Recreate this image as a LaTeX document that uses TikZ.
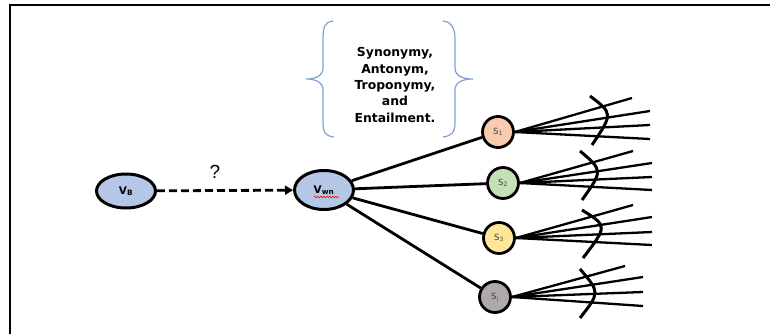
\documentclass[tikz,border=0pt]{standalone}
\usepackage{fontspec}
\setmainfont{DejaVu Sans}
\newfontfamily\qfont{Liberation Sans}
\usetikzlibrary{arrows.meta,shapes.geometric,decorations.pathmorphing}

\definecolor{vblue}{HTML}{B4C7E7}
\definecolor{sorange}{HTML}{F8CBAD}
\definecolor{sgreen}{HTML}{C5E0B4}
\definecolor{syellow}{HTML}{FFE699}
\definecolor{sgray}{HTML}{AEAAAA}
\definecolor{braceblue}{HTML}{7F9FD6}
\definecolor{labelgray}{HTML}{404040}

\begin{document}
\begin{tikzpicture}[x=1pt,y=-1pt,
  vnode/.style={ellipse,draw,line width=3pt,fill=vblue,inner sep=0pt,
    font=\bfseries\fontsize{10.5}{12}\selectfont},
  snode/.style={circle,draw,line width=2.8pt,minimum size=31pt,inner sep=0pt,
    font=\fontsize{8.5}{9}\selectfont,text=labelgray},
  link/.style={line width=2.8pt},
  fan/.style={line width=2.3pt},
  arcline/.style={line width=3pt},
  bracestroke/.style={draw=braceblue,line width=1.2pt},
  frame/.style={line width=2.6pt},
]
\useasboundingbox (0,0) rectangle (770,334);

% outer frame (top and left edges)
\draw[frame] (10,334) -- (10,5) -- (770,5);

% word nodes
\node[vnode,minimum width=59pt,minimum height=34pt] (vb) at (126,191) {V\textsubscript{B}};
\node[vnode,minimum width=59pt,minimum height=39pt] (vwn) at (324,190) {V\textsubscript{wn}};
\draw[red,line width=0.6pt,decorate,decoration={snake,amplitude=0.8pt,segment length=3pt}]
  (314,197) -- (339,197);

% unknown relation
\draw[link,dash pattern=on 8pt off 4pt,-{Triangle[length=8pt,width=9pt]}] (vb) -- (vwn);
\node[font=\qfont\fontsize{19}{20}\selectfont] (q) at (215,172) {?};

% relation types in braces
\node[align=center,font=\bfseries\fontsize{12.4}{16.3}\selectfont] (rel) at (395,85)
  {Synonymy,\\Antonym,\\Troponymy,\\and\\Entailment.};
\draw[bracestroke] (333,21) .. controls (324,22) and (323,28) .. (323,40) -- (323,68)
  .. controls (323,76) and (315,79) .. (306,79)
  .. controls (315,79) and (323,82) .. (323,90) -- (323,122)
  .. controls (323,132) and (325,136) .. (334,137);
\draw[bracestroke] (443,21) .. controls (452,22) and (455,28) .. (455,40) -- (455,68)
  .. controls (455,76) and (463,79) .. (473,79)
  .. controls (463,79) and (455,82) .. (455,90) -- (455,122)
  .. controls (455,132) and (452,136) .. (443,137);

% synset nodes
\node[snode,fill=sorange] (s1) at (498,132) {S\textsubscript{1}};
\node[snode,fill=sgreen] (s2) at (503,183) {S\textsubscript{2}};
\node[snode,fill=syellow] (s3) at (499,238) {S\textsubscript{3}};
\node[snode,fill=sgray] (s4) at (495,297) {S\textsubscript{i}};

\foreach \s in {s1,s2,s3,s4} \draw[link] (vwn) -- (\s);

% fan-out end points
\coordinate (s1f1) at (632,98);  \coordinate (s1f2) at (650,111);
\coordinate (s1f3) at (650,125); \coordinate (s1f4) at (650,139);
\coordinate (s2f1) at (633,151); \coordinate (s2f2) at (652,163);
\coordinate (s2f3) at (652,177); \coordinate (s2f4) at (652,190);
\coordinate (s3f1) at (633,205); \coordinate (s3f2) at (652,217);
\coordinate (s3f3) at (652,232); \coordinate (s3f4) at (652,245);
\coordinate (s4f1) at (625,266); \coordinate (s4f2) at (643,277);
\coordinate (s4f3) at (643,292); \coordinate (s4f4) at (643,306);

\foreach \s in {s1,s2,s3,s4}
  \foreach \k in {1,...,4}
    \draw[fan] (\s.east) -- (\s f\k);

% arcs across each fan
\draw[arcline] (590,96) .. controls (613,113.5) .. (592,145);
\draw[arcline] (580,151) .. controls (603,170.5) .. (582,200);
\draw[arcline] (582,210) .. controls (607.5,226) .. (583,258);
\draw[arcline] (580,269) .. controls (600,292.5) .. (580,318);
\end{tikzpicture}
\end{document}
